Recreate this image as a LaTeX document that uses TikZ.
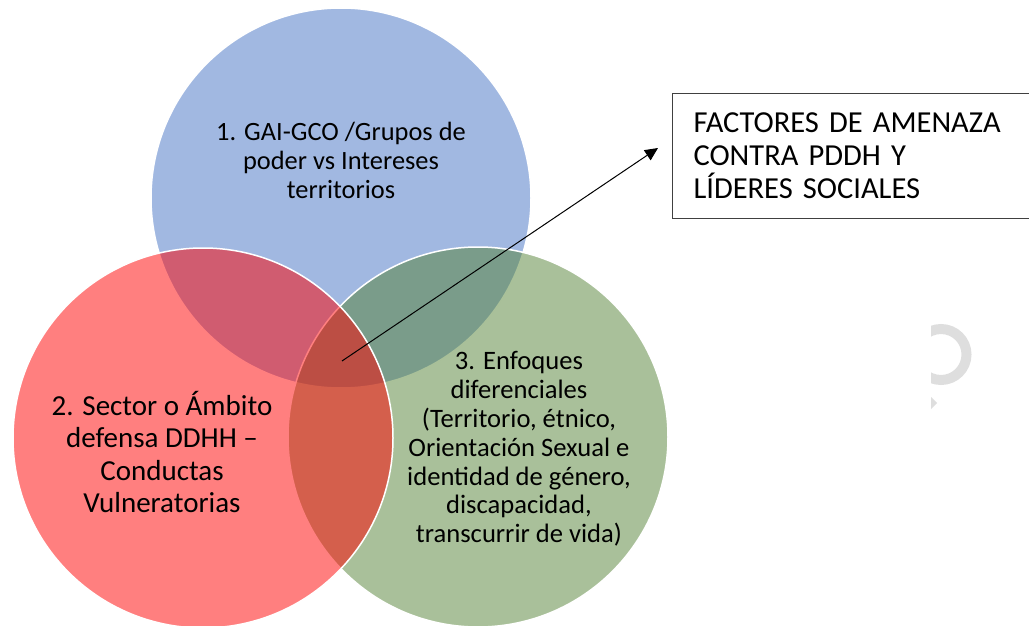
\documentclass[tikz,border=0pt]{standalone}
\usepackage{fontspec}
\setmainfont{Carlito}
\usetikzlibrary{arrows.meta,positioning}
\tikzset{>/.tip={Triangle[length=13pt,width=12pt]}}
\tikzset{venn/.style={circle,draw=white,line width=1.5pt,fill opacity=0.5,minimum size=380pt,inner sep=0pt}}
\tikzset{label_/.style={align=center,text=black}}
\definecolor{vblue}{HTML}{4472C4}
\definecolor{vgreen}{HTML}{548235}
\definecolor{vred}{HTML}{FF0000}
\definecolor{boxline}{HTML}{404040}

\begin{document}
\begin{tikzpicture}[x=1pt,y=-1pt]
        \useasboundingbox (0,0) rectangle (1029,626);
        % the three sets
        \node(gai)[venn,fill=vblue] at (341,198){};
        \node(enfoques)[venn,fill=vgreen] at (478,437){};
        \node(sector)[venn,fill=vred] at (203,438){};
        \node(gaitxt)[label_,font=\fontsize{26.4}{29}\selectfont] at (341,160){1. GAI-GCO /Grupos de\\poder vs Intereses\\territorios};
        \node(enftxt)[label_,font=\fontsize{26.6}{28.8}\selectfont] at (519,449){3. Enfoques\\diferenciales\\(Territorio, étnico,\\Orientación Sexual e\\identidad de género,\\discapacidad,\\transcurrir de vida)};
        \node(sectxt)[label_,font=\fontsize{29}{32.3}\selectfont] at (162,452){2. Sector o Ámbito\\defensa DDHH –\\Conductas\\Vulneratorias};
        % title box
        \node(factores)[draw=boxline,line width=1pt,anchor=north west,minimum width=363pt,minimum height=125pt,
          text width=330pt,inner xsep=21pt,align=left,font=\fontsize{30.5}{33}\selectfont] at (672,93)
          {FACTORES DE AMENAZA\\CONTRA PDDH Y\\LÍDERES SOCIALES};
        \coordinate(core) at (342,361);
        \coordinate(tip) at (658,148);
        \draw[->,line width=1pt] (core) -- (tip);
        % faint clipped ring at the right
        \begin{scope}
          \clip (931,300) rectangle (1000,420);
          \node(ring)[circle,draw=black!13,line width=10pt,minimum size=51pt,inner sep=0pt] at (941,354.5){};
          \fill[black!13] (931,397) -- (937,403) -- (931,409) -- cycle;
        \end{scope}
\end{tikzpicture}
\end{document}
